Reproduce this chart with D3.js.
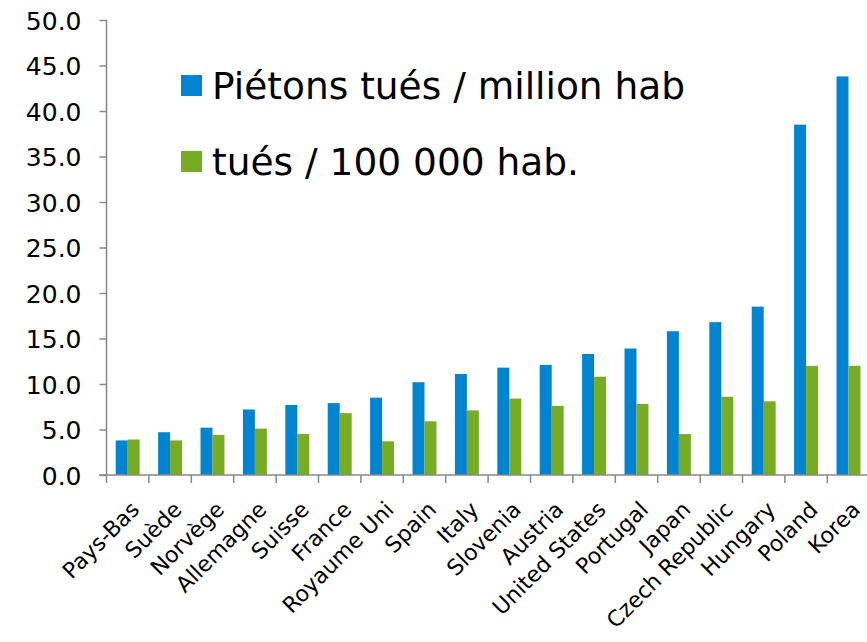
<!DOCTYPE html>
<html>
<head>
<meta charset="utf-8">
<script src="https://cdn.jsdelivr.net/npm/d3@7"></script>
<style>
  html, body { margin: 0; padding: 0; background: #fff; }
  svg { display: block; font-family: Verdana, "DejaVu Sans", sans-serif; }
</style>
</head>
<body>
<div id="chart"></div>
<script>
// Pedestrian fatalities vs. all road fatalities, per country
const categories = ['Pays-Bas', 'Suède', 'Norvège', 'Allemagne', 'Suisse', 'France', 'Royaume Uni',
  'Spain', 'Italy', 'Slovenia', 'Austria', 'United States', 'Portugal', 'Japan', 'Czech Republic',
  'Hungary', 'Poland', 'Korea'];
const pietonsParMillion = [3.8, 4.7, 5.2, 7.2, 7.7, 7.9, 8.5, 10.2, 11.1, 11.8, 12.1, 13.3, 13.9, 15.8, 16.8, 18.5, 38.5, 43.8];
const tuesPar100k = [3.9, 3.8, 4.4, 5.1, 4.5, 6.8, 3.7, 5.9, 7.1, 8.4, 7.6, 10.8, 7.8, 4.5, 8.6, 8.1, 12.0, 12.0];
const seriesNames = ['Piétons tués / million hab', 'tués / 100 000 hab.'];
const seriesColors = ['#0084d1', '#77ac24'];
const yTicks = [0, 5, 10, 15, 20, 25, 30, 35, 40, 45, 50];

const width = 867, height = 642;
const axisColor = '#888888';
const fontFamily = 'Verdana, "DejaVu Sans", sans-serif';

const svg = d3.select('#chart').append('svg')
  .attr('width', width)
  .attr('height', height);

svg.append('rect').attr('width', width).attr('height', height).attr('fill', '#fff');

const x0 = d3.scaleBand()
  .domain(categories)
  .range([106.5, 106.5 + 18 * 42.4])
  .padding(0);

const x1 = d3.scaleBand()
  .domain([0, 1])
  .range([0, x0.bandwidth()])
  .paddingInner(0)
  .paddingOuter(0.77);

const y = d3.scaleLinear().domain([0, 50]).range([475, 20]);

// y axis
const yAxis = d3.axisLeft(y)
  .tickValues(yTicks)
  .tickSize(7)
  .tickPadding(18)
  .tickFormat(d3.format('.1f'));

const gy = svg.append('g')
  .attr('transform', 'translate(106.5,0)')
  .call(yAxis)
  .attr('font-family', fontFamily);
gy.select('.domain').remove();
gy.append('line')
  .attr('x1', 0).attr('x2', 0)
  .attr('y1', y(50)).attr('y2', y(0))
  .attr('stroke', axisColor).attr('stroke-width', 1.5);
gy.selectAll('.tick line').attr('stroke', axisColor).attr('stroke-width', 1.5);
gy.selectAll('.tick text')
  .attr('fill', '#000')
  .style('font-size', '25px')
  .attr('dy', '0.36em');

// bars
const groups = svg.append('g').selectAll('g')
  .data(categories)
  .join('g')
  .attr('transform', d => `translate(${x0(d)},0)`);

groups.selectAll('rect')
  .data((d, i) => [pietonsParMillion[i], tuesPar100k[i]])
  .join('rect')
  .attr('x', (d, j) => x1(j))
  .attr('width', x1.bandwidth())
  .attr('y', d => y(d))
  .attr('height', d => y(0) - y(d))
  .attr('fill', (d, j) => seriesColors[j]);

// x axis line and boundary ticks
const gx = svg.append('g');
gx.append('line')
  .attr('x1', 99).attr('x2', width)
  .attr('y1', y(0)).attr('y2', y(0))
  .attr('stroke', axisColor).attr('stroke-width', 1.5);

const boundaries = categories.map(c => x0(c));
gx.selectAll('line.bt')
  .data(boundaries)
  .join('line')
  .attr('class', 'bt')
  .attr('x1', d => d).attr('x2', d => d)
  .attr('y1', y(0)).attr('y2', y(0) + 8)
  .attr('stroke', axisColor).attr('stroke-width', 1.5);

// category labels, rotated
gx.selectAll('text')
  .data(categories)
  .join('text')
  .attr('transform', d => `translate(${x0(d) + x0.bandwidth() / 2 + 13},${y(0) + 36}) rotate(-45)`)
  .attr('text-anchor', 'end')
  .style('font-size', '22px')
  .attr('fill', '#000')
  .text(d => d);

// legend
const legend = svg.append('g');
const legendRows = [0, 1];
legend.selectAll('rect')
  .data(legendRows)
  .join('rect')
  .attr('x', 181)
  .attr('y', i => 75 + i * 76)
  .attr('width', 21)
  .attr('height', 21)
  .attr('fill', i => seriesColors[i]);

legend.selectAll('text')
  .data(legendRows)
  .join('text')
  .attr('x', 212)
  .attr('y', i => 98.5 + i * 76)
  .style('font-size', '37.5px')
  .attr('fill', '#000')
  .text(i => seriesNames[i]);
</script>
</body>
</html>
